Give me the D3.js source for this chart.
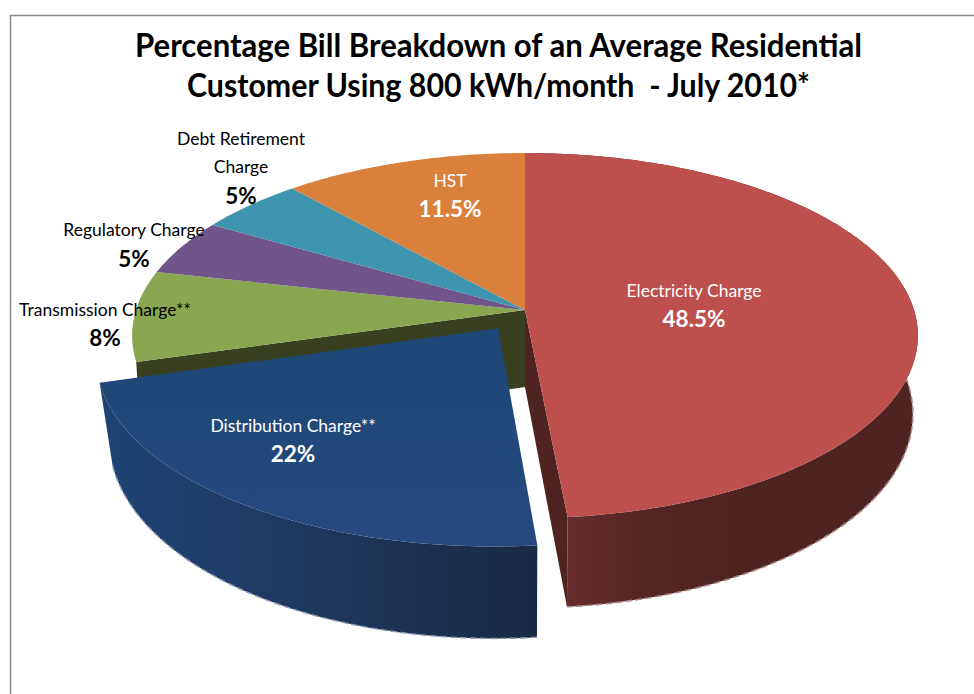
<!DOCTYPE html>
<html>
<head>
<meta charset="utf-8">
<script src="https://cdn.jsdelivr.net/npm/d3@7"></script>
<style>
  html, body { margin: 0; padding: 0; background: #fff; }
  svg { display: block; }
  text { font-family: Lato, "Open Sans", sans-serif; text-anchor: middle; }
</style>
</head>
<body>
<div id="chart"></div>
<script>
// chart values
var titleLines = ["Percentage Bill Breakdown of an Average Residential", "Customer Using 800 kWh/month  - July 2010*"];
var categories = ["Electricity Charge", "Distribution Charge**", "Transmission Charge**", "Regulatory Charge", "Debt Retirement Charge", "HST"];
var values = [48.5, 22, 8, 5, 5, 11.5];
var valueLabels = ["48.5%", "22%", "8%", "5%", "5%", "11.5%"];
var topColors = ["#BD4F4D", "#1F4878", "#8AA650", "#70558B", "#3F94AE", "#D9803C"];

var width = 974, height = 694;

var svg = d3.select("#chart").append("svg")
  .attr("width", width)
  .attr("height", height);

// the frame of the chart area, cut off on the right and at the bottom
svg.append("path")
  .attr("d", "M10.5," + height + "V15.5H" + width)
  .attr("fill", "none")
  .attr("stroke", "#8a8a8a")
  .attr("stroke-width", 1.5);

// Perspective of the pie. u,v are on the unit disk, v towards the viewer
var persp = 0.14;
function project(u, v, level) {
  var d = 1 - persp * v;
  return [525 + level.ax * u / d, level.y + level.by * v / d];
}
var topLevel = { ax: 389, by: 179, y: 310 };
var bottomLevel = { ax: 384, by: 190, y: 387 };
// the pulled out slice sits a little closer to the camera
var blueTopLevel = { ax: 392, by: 182, y: 310 };
var blueBottomLevel = { ax: 380, by: 192, y: 389 };

var slices = d3.pie().sort(null).value(function(d) { return d; })(values);
var explode = [0, 0.12, 0, 0, 0, 0];

// points along the rim of a slice
function rim(s, i, level) {
  var mid = (s.startAngle + s.endAngle) / 2;
  var ox = explode[i] * Math.sin(mid), oy = -explode[i] * Math.cos(mid);
  var n = Math.ceil((s.endAngle - s.startAngle) * 60);
  return d3.range(n + 1).map(function(k) {
    var a = s.startAngle + (s.endAngle - s.startAngle) * k / n;
    return project(Math.sin(a) + ox, -Math.cos(a) + oy, level);
  });
}
function apex(s, i, level) {
  var mid = (s.startAngle + s.endAngle) / 2;
  return project(explode[i] * Math.sin(mid), -explode[i] * Math.cos(mid), level);
}
var line = d3.line();

var defs = svg.append("defs");
function sideGradient(id, x1, x2, stops) {
  var g = defs.append("linearGradient").attr("id", id)
    .attr("gradientUnits", "userSpaceOnUse")
    .attr("x1", x1).attr("x2", x2).attr("y1", 0).attr("y2", 0);
  stops.forEach(function(st) {
    g.append("stop").attr("offset", st[0]).attr("stop-color", st[1]);
  });
}
sideGradient("redSide", 566, 910, [[0, "#662E2C"], [0.2, "#552624"], [0.5, "#4E2322"], [1, "#4E2322"]]);
sideGradient("blueSide", 100, 535, [[0, "#1E4373"], [0.25, "#1F3F6A"], [0.55, "#1D365A"], [1, "#172A45"]]);
defs.append("linearGradient").attr("id", "blueTop")
  .attr("gradientUnits", "userSpaceOnUse")
  .attr("x1", 0).attr("x2", 0).attr("y1", 400).attr("y2", 545)
  .selectAll("stop").data([[0, "#1F4878"], [1, "#26497E"]]).enter().append("stop")
  .attr("offset", function(d) { return d[0]; })
  .attr("stop-color", function(d) { return d[1]; });

var pie = svg.append("g");

// the wall of the green slice which shows through the gap of the pulled out slice
var green = slices[2];
pie.append("path")
  .attr("d", line([apex(green, 2, topLevel), rim(green, 2, topLevel)[0], rim(green, 2, bottomLevel)[0], apex(green, 2, bottomLevel)]) + "Z")
  .attr("fill", "#384020");

// the back slices, flat
[2, 3, 4, 5].forEach(function(i) {
  pie.append("path")
    .attr("d", line([apex(slices[i], i, topLevel)].concat(rim(slices[i], i, topLevel))) + "Z")
    .attr("fill", topColors[i]);
});

// the red slice: cut wall, outer side, top
var red = slices[0], redTop = rim(red, 0, topLevel), redBottom = rim(red, 0, bottomLevel);
pie.append("path")
  .attr("d", line([apex(red, 0, topLevel), redTop[redTop.length - 1], redBottom[redBottom.length - 1], apex(red, 0, bottomLevel)]) + "Z")
  .attr("fill", "#4F2322");
pie.append("path")
  .attr("d", line(redTop.concat(redBottom.slice().reverse())) + "Z")
  .attr("fill", "url(#redSide)");
pie.append("path")
  .attr("d", line(redBottom.slice(Math.floor(redBottom.length * 0.42))))
  .attr("fill", "none")
  .attr("stroke", "#a88484")
  .attr("stroke-width", 1.6)
  .attr("stroke-dasharray", "7 3");
pie.append("path")
  .attr("d", line([apex(red, 0, topLevel)].concat(redTop)) + "Z")
  .attr("fill", topColors[0]);

// the pulled out blue slice
var blue = slices[1], blueTop = rim(blue, 1, blueTopLevel), blueBottom = rim(blue, 1, blueBottomLevel);
pie.append("path")
  .attr("d", line(blueTop.concat(blueBottom.slice().reverse())) + "Z")
  .attr("fill", "url(#blueSide)");
pie.append("path")
  .attr("d", line(blueBottom))
  .attr("fill", "none")
  .attr("stroke", "#8d9bb0")
  .attr("stroke-width", 1.4)
  .attr("stroke-dasharray", "7 3");
pie.append("path")
  .attr("d", line([apex(blue, 1, blueTopLevel)].concat(blueTop)) + "Z")
  .attr("fill", "url(#blueTop)");

// title, squeezed to the width of the original lines
var titleWidths = [727, 623];
svg.selectAll(".title").data(titleLines).enter().append("text")
  .attr("class", "title")
  .attr("x", 498.5)
  .attr("y", function(d, i) { return 57 + i * 40; })
  .attr("font-size", 31.5)
  .attr("font-weight", 700)
  .attr("xml:space", "preserve")
  .attr("textLength", function(d, i) { return titleWidths[i]; })
  .attr("lengthAdjust", "spacingAndGlyphs")
  .attr("fill", "#000")
  .text(function(d) { return d; });

// label placement, in the order of categories: centre x, name baselines, value baseline
var labelPlaces = [
  { x: 694, names: [297], valueY: 327, fill: "#fff" },
  { x: 293, names: [432], valueY: 462, fill: "#fff" },
  { x: 105, names: [316], valueY: 346, fill: "#000" },
  { x: 134, names: [236], valueY: 267, fill: "#000" },
  { x: 241, names: [145, 173], valueY: 204, fill: "#000" },
  { x: 450, names: [187], valueY: 217, fill: "#fff" }
];

labelPlaces.forEach(function(p, i) {
  var g = svg.append("g").attr("fill", p.fill);
  var parts = p.names.length > 1 ? ["Debt Retirement", "Charge"] : [categories[i]];
  parts.forEach(function(t, k) {
    g.append("text")
      .attr("x", p.x)
      .attr("y", p.names[k])
      .attr("font-size", 17.5)
      .text(t);
  });
  g.append("text")
    .attr("x", p.x)
    .attr("y", p.valueY)
    .attr("font-size", 22.5)
    .attr("font-weight", 700)
    .text(valueLabels[i]);
});
</script>
</body>
</html>
